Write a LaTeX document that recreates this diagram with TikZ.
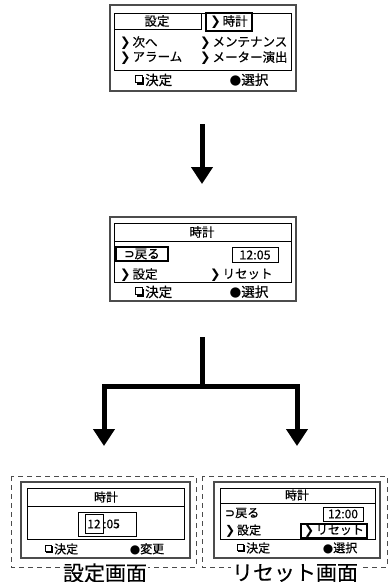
\documentclass[tikz,border=0pt]{standalone}
\usepackage{fontspec}
\setmainfont{Noto Sans CJK JP}[FakeBold=0.5]
\newfontfamily\lblfont{Noto Sans CJK JP}[FakeBold=0.2]
\newfontfamily\symfont{DejaVu Sans}
\usetikzlibrary{arrows.meta}
\newcommand\chev{{\symfont ❯}\hspace{0.15em}}
\newcommand\retsym{{\symfont\bfseries ⊃}}
\newcommand\dotsym{{\symfont ●}}
\tikzset{
  frame/.style={draw=black!70, line width=1.5pt},
  lcd/.style={draw=black, line width=0.9pt},
  selbox/.style={draw=black, line width=1.4pt},
  thinbox/.style={draw=black, line width=0.8pt},
  bigtxt/.style={inner sep=0pt, font=\fontsize{12.5}{12.5}\selectfont},
  keytxt/.style={inner sep=0pt, font=\fontsize{13.5}{13.5}\selectfont},
  smtxt/.style={inner sep=0pt, font=\fontsize{12}{12}\selectfont},
  lbltxt/.style={inner sep=1pt, fill=white, font=\lblfont\fontsize{21}{21}\selectfont},
  dashbox/.style={draw=black!70, line width=1pt, dash pattern=on 5pt off 4pt},
  bigarrow/.style={line width=5pt, -{Triangle[width=21pt,length=17pt]}},
  barline/.style={line width=5pt, line join=miter},
  sqmark/.pic={
    \fill[black] (-8.5,-3) rectangle (-1,4.5);
    \filldraw[fill=white, draw=black, line width=0.9pt] (-10,-4.5) rectangle (-3,2.5);
  },
}
\begin{document}
\begin{tikzpicture}[x=1pt,y=-1pt]
\useasboundingbox (0,0) rectangle (389,582);
% ---------- Screen 1 ----------
\draw[frame] (110,5) rectangle (296,91);
\draw[lcd] (114,13) rectangle (291,70);
\draw[thinbox] (114,29) -- (201,29) -- (201,13);
\draw[selbox] (206,13) rectangle (252,31);
\node[bigtxt] (s1t) at (157,21) {設定};
\node[bigtxt] (s1c) at (229,22) {\chev 時計};
\node[bigtxt, anchor=west] (s1a) at (120,43) {\chev 次へ};
\node[bigtxt, anchor=west] (s1b) at (200,43) {\chev メンテナンス};
\node[bigtxt, anchor=west] (s1d) at (120,58) {\chev アラーム};
\node[bigtxt, anchor=west] (s1e) at (200,58) {\chev メーター演出};
\node[keytxt, anchor=west] (s1k1) at (145,80) {決定};
\pic at (s1k1.west) {sqmark};
\node[keytxt] (s1k2) at (249,80) {\dotsym 選択};
\coordinate (s1bot) at (202,124);
\coordinate (s2top) at (202,184);
\draw[bigarrow] (s1bot) -- (s2top);
% ---------- Screen 2 ----------
\draw[frame] (110,217) rectangle (296,301);
\draw[lcd] (114,223) rectangle (291,282);
\draw[thinbox] (114,241) -- (291,241);
\node[bigtxt] (s2t) at (202,232) {時計};
\draw[selbox] (116,247) rectangle (168,261);
\node[bigtxt] (s2r) at (142,254) {\retsym 戻る};
\draw[thinbox] (232,247) rectangle (278,262);
\node[bigtxt] (s2tm) at (255,255) {12:05};
\node[bigtxt, anchor=west] (s2a) at (120,275) {\chev 設定};
\node[bigtxt, anchor=west] (s2b) at (210,275) {\chev リセット};
\node[keytxt, anchor=west] (s2k1) at (145,292) {決定};
\pic at (s2k1.west) {sqmark};
\node[keytxt] (s2k2) at (249,292) {\dotsym 選択};
% ---------- branch arrow ----------
\coordinate (s2bot) at (202,337);
\coordinate (jn) at (202,386);
\coordinate (lt) at (104,446);
\coordinate (rt) at (297,446);
\draw[barline] (s2bot) -- (jn);
\draw[bigarrow, line join=miter] (jn) -| (lt);
\draw[bigarrow, line join=miter] (jn) -| (rt);
% ---------- Bottom left ----------
\draw[dashbox] (11,476) rectangle (196,567);
\draw[frame] (21,482) rectangle (190,558);
\draw[lcd] (27,488) rectangle (184,539);
\draw[thinbox] (27,506) -- (184,506);
\node[smtxt] (s3t) at (106,497) {時計};
\draw[thinbox] (78,512) rectangle (136,536);
\draw[thinbox] (85,514) rectangle (103,533);
\node[smtxt] (s3h) at (94,524) {12};
\node[smtxt, anchor=west] (s3m) at (103,524) {:05};
\node[smtxt, anchor=west] (s3k1) at (54,549) {決定};
\pic[scale=0.9] at (s3k1.west) {sqmark};
\node[smtxt] (s3k2) at (147,549) {\dotsym 変更};
\node[lbltxt] (lbl1) at (105,573) {設定画面};
% ---------- Bottom right ----------
\draw[dashbox] (202,476) rectangle (387,567);
\draw[frame] (214,482) rectangle (380,558);
\draw[lcd] (220,488) rectangle (375,539);
\draw[thinbox] (220,503) -- (375,503);
\node[smtxt] (s4t) at (297,495) {時計};
\node[smtxt, anchor=west] (s4r) at (225,513) {\retsym 戻る};
\draw[thinbox] (323,507) rectangle (363,521);
\node[smtxt] (s4tm) at (343,514) {12:00};
\node[smtxt, anchor=west] (s4a) at (225,531) {\chev 設定};
\draw[selbox] (301,524) rectangle (367,538);
\node[smtxt] (s4b) at (334,531) {\chev リセット};
\node[smtxt, anchor=west] (s4k1) at (246,548) {決定};
\pic[scale=0.9] at (s4k1.west) {sqmark};
\node[smtxt] (s4k2) at (340,548) {\dotsym 選択};
\node[lbltxt] (lbl2) at (295,573) {リセット画面};
\end{tikzpicture}
\end{document}
